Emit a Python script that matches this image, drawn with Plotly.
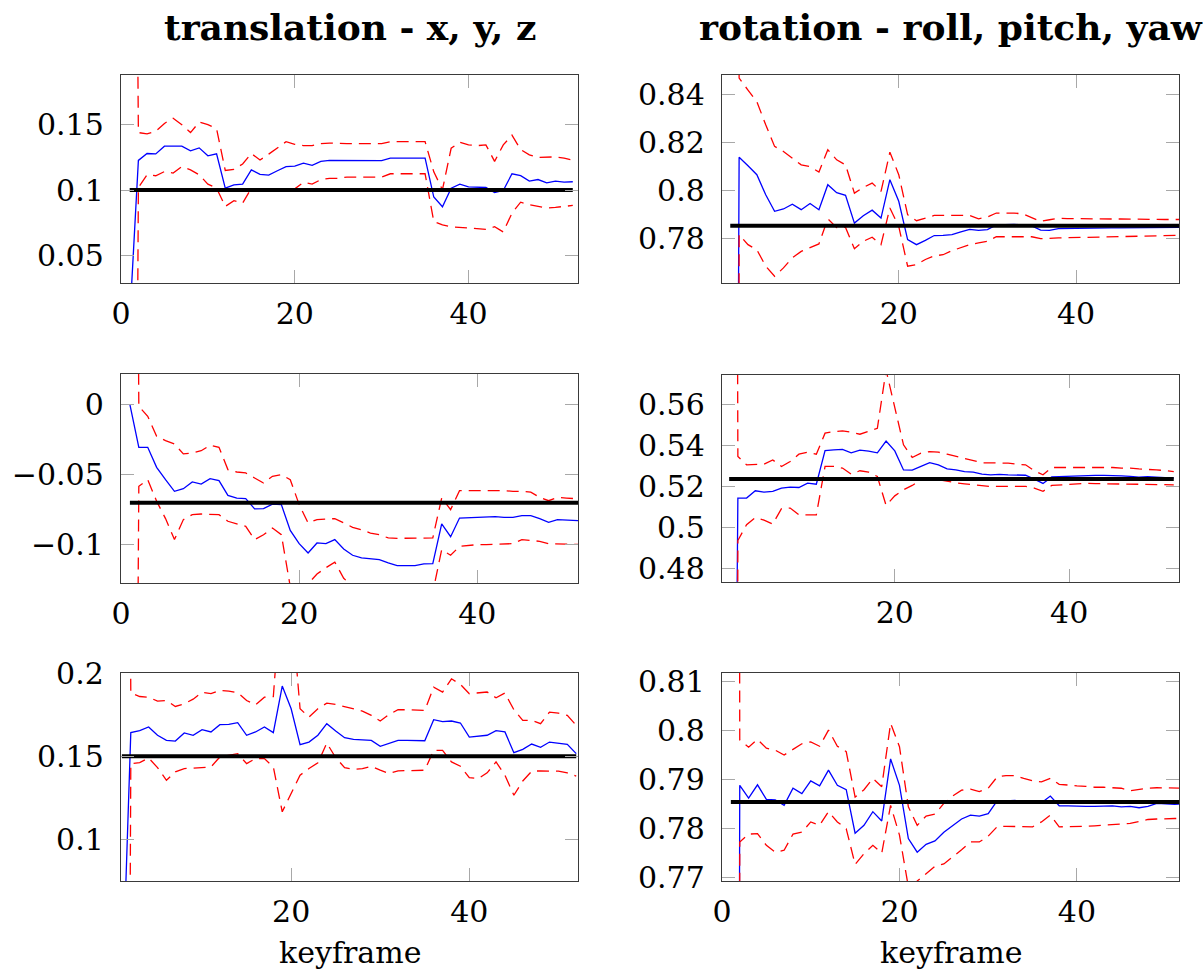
import math
import plotly.graph_objects as go

# keyframe index shared by all six panels
keyframes = list(range(1, 53))

# ---------------- translation x ----------------
est_tx = [0.0, 0.1227, 0.128, 0.1277, 0.1336, 0.1338, 0.1336, 0.130, 0.1323, 0.1262,
          0.1277, 0.1015, 0.104, 0.1046, 0.1155, 0.112, 0.1115, 0.1148, 0.118, 0.1183,
          0.1206, 0.119, 0.1219, 0.1227, 0.1227, 0.1227, 0.1229, 0.1229, 0.1227, 0.1225,
          0.1244, 0.1244, 0.1244, 0.1244, 0.1244, 0.0947, 0.0873, 0.1015, 0.1046, 0.1025,
          0.102, 0.102, 0.0982, 0.0997, 0.1125, 0.111, 0.1069, 0.1081, 0.1056, 0.1069,
          0.1061, 0.1064]
up_tx = [1.0, 0.144, 0.143, 0.145, 0.151, 0.155, 0.150, 0.144, 0.152, 0.150,
         0.147, 0.115, 0.1158, 0.120, 0.128, 0.123, 0.1275, 0.132, 0.137, 0.135,
         0.134, 0.134, 0.1356, 0.136, 0.1355, 0.1355, 0.1355, 0.1355, 0.1355, 0.1355,
         0.137, 0.137, 0.137, 0.137, 0.137, 0.114, 0.1003, 0.132, 0.1366, 0.1346,
         0.134, 0.1346, 0.122, 0.1346, 0.142, 0.131, 0.127, 0.125, 0.125, 0.1254,
         0.1244, 0.123]
lo_tx = [-1.0, 0.102, 0.1117, 0.111, 0.1142, 0.113, 0.118, 0.1155, 0.1117, 0.1046,
         0.1015, 0.0875, 0.0919, 0.090, 0.1015, 0.0995, 0.099, 0.0995, 0.0995, 0.101,
         0.106, 0.1046, 0.108, 0.109, 0.109, 0.110, 0.110, 0.110, 0.1095, 0.110,
         0.1125, 0.1125, 0.1125, 0.1125, 0.1125, 0.076, 0.0735, 0.072, 0.0715, 0.0705,
         0.070, 0.070, 0.072, 0.068, 0.0824, 0.0908, 0.0888, 0.0875, 0.0863, 0.0868,
         0.0875, 0.0883]
true_tx = 0.1

# ---------------- translation y ----------------
est_ty = [0.0, -0.0305, -0.0305, -0.0448, -0.0536, -0.0619, -0.060, -0.0552, -0.0567, -0.0529,
          -0.0543, -0.0648, -0.0667, -0.0671, -0.0745, -0.0743, -0.071, -0.0714, -0.0898, -0.0993,
          -0.106, -0.0988, -0.0993, -0.0964, -0.1031, -0.1076, -0.1095, -0.1102, -0.1107, -0.1131,
          -0.115, -0.115, -0.115, -0.1138, -0.1136, -0.0852, -0.0943, -0.081, -0.0807, -0.0807,
          -0.0805, -0.080, -0.0805, -0.0805, -0.0793, -0.0793, -0.0814, -0.084, -0.0821, -0.0826,
          -0.0831, -0.083]
up_ty = [1.0, -0.0012, -0.0083, -0.0226, -0.0257, -0.0281, -0.0352, -0.0345, -0.0329, -0.029,
         -0.0305, -0.0464, -0.0481, -0.0488, -0.0524, -0.056, -0.0512, -0.050, -0.0536, -0.0714,
         -0.0845, -0.0821, -0.0817, -0.0814, -0.0845, -0.0876, -0.0895, -0.0917, -0.0929, -0.0952,
         -0.0955, -0.0955, -0.0955, -0.0955, -0.0952, -0.0667, -0.075, -0.0614, -0.0614, -0.0614,
         -0.0612, -0.0612, -0.0614, -0.0619, -0.0619, -0.0625, -0.0662, -0.0686, -0.0662, -0.0667,
         -0.0674, -0.0676]
lo_ty = [-1.0, -0.0583, -0.0536, -0.069, -0.0814, -0.0964, -0.0821, -0.0786, -0.0781, -0.0781,
         -0.0786, -0.0833, -0.0852, -0.0869, -0.0964, -0.0929, -0.0881, -0.0929, -0.130, -0.135,
         -0.128, -0.121, -0.1165, -0.1125, -0.124, -0.130, -0.131, -0.132, -0.133, -0.134,
         -0.135, -0.135, -0.135, -0.134, -0.134, -0.1036, -0.1076, -0.1012, -0.1005, -0.100,
         -0.100, -0.0998, -0.0995, -0.0993, -0.0964, -0.097, -0.0976, -0.0993, -0.0995, -0.100,
         -0.100, -0.100]
true_ty = -0.07

# ---------------- translation z ----------------
est_tz = [0.0, 0.1643, 0.1655, 0.1677, 0.1627, 0.1596, 0.1592, 0.1641, 0.1627, 0.1661,
          0.1647, 0.1691, 0.1693, 0.1703, 0.1627, 0.1647, 0.1677, 0.1643, 0.1924, 0.1787,
          0.157, 0.1586, 0.1627, 0.1697, 0.1653, 0.1612, 0.1602, 0.160, 0.1596, 0.156,
          0.1576, 0.1596, 0.1596, 0.1594, 0.1594, 0.1721, 0.1709, 0.1713, 0.1701, 0.1616,
          0.1622, 0.1627, 0.1655, 0.1647, 0.1522, 0.1542, 0.1574, 0.1554, 0.1586, 0.158,
          0.1572, 0.1516]
up_tz = [1.0, 0.1882, 0.1861, 0.1857, 0.1833, 0.1837, 0.1801, 0.1817, 0.1845, 0.1886,
         0.1878, 0.1898, 0.1894, 0.1884, 0.1837, 0.1811, 0.1857, 0.1861, 0.258, 0.243,
         0.1787, 0.1737, 0.1787, 0.1821, 0.1813, 0.1801, 0.1787, 0.1773, 0.1747, 0.1713,
         0.1753, 0.1781, 0.1781, 0.1777, 0.1777, 0.1918, 0.1888, 0.1968, 0.1934, 0.1878,
         0.1882, 0.1888, 0.1853, 0.1882, 0.1781, 0.1717, 0.1717, 0.1697, 0.1767, 0.1761,
         0.1747, 0.1687]
lo_tz = [-1.0, 0.1456, 0.1462, 0.149, 0.1432, 0.1355, 0.1406, 0.1426, 0.1428, 0.1434,
         0.1436, 0.1496, 0.1506, 0.1516, 0.1456, 0.1486, 0.1486, 0.1436, 0.1165, 0.1275,
         0.1386, 0.1426, 0.146, 0.158, 0.1492, 0.1432, 0.142, 0.1426, 0.144, 0.1416,
         0.1396, 0.1412, 0.1412, 0.1416, 0.1416, 0.1536, 0.1536, 0.1466, 0.144, 0.1371,
         0.1365, 0.140, 0.1466, 0.1386, 0.1265, 0.1351, 0.141, 0.1412, 0.141, 0.141,
         0.140, 0.138]
true_tz = 0.15

# ---------------- rotation roll ----------------
est_rr = [0.0, 0.814, 0.8104, 0.8067, 0.7983, 0.7914, 0.7924, 0.7944, 0.7921, 0.7947,
          0.7921, 0.8025, 0.7992, 0.7981, 0.7865, 0.7896, 0.7919, 0.7886, 0.8046, 0.7956,
          0.7796, 0.7775, 0.7793, 0.7813, 0.7814, 0.7817, 0.7828, 0.7839, 0.7835, 0.7838,
          0.7857, 0.7858, 0.786, 0.7856, 0.7853, 0.7836, 0.7835, 0.7842, 0.7843, 0.7843,
          0.7844, 0.7844, 0.7844, 0.7845, 0.7845, 0.7845, 0.7846, 0.7846, 0.7846, 0.7846,
          0.7847, 0.7847]
up_rr = [2.0, 0.847, 0.842, 0.8372, 0.8275, 0.8185, 0.8164, 0.8136, 0.8108, 0.8101,
         0.8078, 0.8171, 0.8129, 0.8108, 0.799, 0.8014, 0.8032, 0.7997, 0.8161, 0.8067,
         0.790, 0.7875, 0.7886, 0.7897, 0.7897, 0.7896, 0.7897, 0.7897, 0.7883, 0.789,
         0.7907, 0.7908, 0.7907, 0.7903, 0.7889, 0.7872, 0.7879, 0.7885, 0.7884, 0.7883,
         0.7883, 0.7883, 0.7882, 0.7882, 0.7882, 0.7881, 0.7881, 0.7881, 0.788, 0.788,
         0.788, 0.788]
lo_rr = [-2.0, 0.7817, 0.7775, 0.7754, 0.7685, 0.7643, 0.7678, 0.772, 0.7747, 0.7764,
         0.7778, 0.7883, 0.7846, 0.7847, 0.7758, 0.7789, 0.7806, 0.7775, 0.7928, 0.7851,
         0.7685, 0.7692, 0.7713, 0.7728, 0.7733, 0.775, 0.7764, 0.7775, 0.7782, 0.7789,
         0.7808, 0.7808, 0.7808, 0.7808, 0.7808, 0.780, 0.780, 0.7803, 0.7804, 0.7805,
         0.7806, 0.7807, 0.7808, 0.7808, 0.7809, 0.781, 0.781, 0.7811, 0.7812, 0.7813,
         0.7813, 0.7814]
true_rr = math.pi / 4

# ---------------- rotation pitch ----------------
est_rp = [0.0, 0.5143, 0.5143, 0.5179, 0.5172, 0.5176, 0.5192, 0.5197, 0.5195, 0.5216,
          0.5211, 0.5376, 0.5379, 0.5382, 0.5365, 0.5378, 0.5373, 0.5365, 0.5422, 0.5374,
          0.5281, 0.528, 0.5298, 0.5317, 0.5306, 0.5286, 0.5281, 0.5273, 0.527, 0.526,
          0.5257, 0.5259, 0.5257, 0.5257, 0.5255, 0.5236, 0.5215, 0.5247, 0.5249, 0.5251,
          0.5252, 0.5254, 0.5254, 0.5254, 0.5254, 0.5252, 0.5249, 0.5246, 0.5248, 0.5246,
          0.5244, 0.5241]
up_rp = [2.0, 0.5347, 0.5306, 0.5306, 0.5309, 0.533, 0.5298, 0.5322, 0.5358, 0.5368,
         0.5358, 0.5461, 0.5469, 0.5472, 0.5466, 0.5456, 0.5469, 0.5485, 0.577, 0.5583,
         0.5404, 0.5342, 0.5363, 0.5371, 0.5368, 0.5358, 0.5347, 0.5335, 0.5325, 0.5316,
         0.5316, 0.5316, 0.5314, 0.5309, 0.5306, 0.5277, 0.5257, 0.5293, 0.5293, 0.5293,
         0.5293, 0.5295, 0.5295, 0.5295, 0.5293, 0.529, 0.529, 0.5286, 0.5285, 0.5281,
         0.5278, 0.5273]
lo_rp = [-2.0, 0.4935, 0.5013, 0.5048, 0.5035, 0.5016, 0.5091, 0.5094, 0.5061, 0.5061,
         0.5061, 0.5298, 0.5298, 0.529, 0.526, 0.5277, 0.527, 0.5249, 0.5107, 0.5154,
         0.5184, 0.5205, 0.5233, 0.5241, 0.5233, 0.5224, 0.5218, 0.5213, 0.5208, 0.5202,
         0.520, 0.520, 0.520, 0.520, 0.520, 0.5192, 0.5176, 0.5205, 0.5208, 0.5211,
         0.5213, 0.5215, 0.5214, 0.5213, 0.5213, 0.5212, 0.5211, 0.521, 0.521, 0.5209,
         0.5209, 0.5208]
true_rp = math.pi / 6

# ---------------- rotation yaw ----------------
est_ry = [0.0, 0.7888, 0.7862, 0.7889, 0.7859, 0.7858, 0.7847, 0.7882, 0.7871, 0.7897,
          0.7887, 0.7919, 0.7888, 0.7879, 0.779, 0.7806, 0.7834, 0.7815, 0.7942, 0.7888,
          0.7779, 0.7751, 0.7767, 0.7774, 0.7792, 0.7806, 0.7819, 0.7827, 0.7825, 0.783,
          0.7856, 0.7856, 0.7857, 0.7855, 0.7853, 0.7852, 0.7866, 0.7846, 0.7846, 0.7845,
          0.7845, 0.7845, 0.7845, 0.7846, 0.7844, 0.7845, 0.7842, 0.7845, 0.7851, 0.785,
          0.7849, 0.785]
up_ry = [2.0, 0.7981, 0.7966, 0.7982, 0.7964, 0.796, 0.795, 0.7962, 0.7973, 0.7977,
         0.7968, 0.8001, 0.7968, 0.7957, 0.7864, 0.7879, 0.7902, 0.7885, 0.8015, 0.7967,
         0.7844, 0.7806, 0.7825, 0.7829, 0.7851, 0.7866, 0.7878, 0.788, 0.7875, 0.7882,
         0.7905, 0.7908, 0.7908, 0.7902, 0.7897, 0.7895, 0.7902, 0.789, 0.7888, 0.7887,
         0.7886, 0.7884, 0.7884, 0.7883, 0.7882, 0.7877, 0.788, 0.7882, 0.7883, 0.7883,
         0.7882, 0.7882]
lo_ry = [-2.0, 0.7772, 0.7788, 0.7789, 0.7765, 0.7751, 0.7755, 0.7788, 0.7792, 0.7813,
         0.7806, 0.7834, 0.7813, 0.7799, 0.7726, 0.7748, 0.7765, 0.7749, 0.7847, 0.7786,
         0.768, 0.7692, 0.7707, 0.7722, 0.7727, 0.7741, 0.7756, 0.7772, 0.7772, 0.7784,
         0.7803, 0.7804, 0.7804, 0.7803, 0.7803, 0.7813, 0.7827, 0.7803, 0.7803, 0.7803,
         0.7804, 0.7805, 0.7806, 0.7807, 0.7808, 0.781, 0.7814, 0.7818, 0.7819, 0.782,
         0.782, 0.782]
true_ry = math.pi / 4

# tick labels per panel
x_ticks = [0, 20, 40]
x_ticktext = ["0", "20", "40"]
y_ticks_tx = [0.05, 0.1, 0.15]
y_ticktext_tx = ["0.05", "0.1", "0.15"]
y_ticks_ty = [-0.1, -0.05, 0.0]
y_ticktext_ty = ["\u22120.1", "\u22120.05", "0"]
y_ticks_tz = [0.1, 0.15, 0.2]
y_ticktext_tz = ["0.1", "0.15", "0.2"]
y_ticks_rr = [0.78, 0.8, 0.82, 0.84]
y_ticktext_rr = ["0.78", "0.8", "0.82", "0.84"]
y_ticks_rp = [0.48, 0.5, 0.52, 0.54, 0.56]
y_ticktext_rp = ["0.48", "0.5", "0.52", "0.54", "0.56"]
y_ticks_ry = [0.77, 0.78, 0.79, 0.8, 0.81]
y_ticktext_ry = ["0.77", "0.78", "0.79", "0.8", "0.81"]

col_titles = ["translation - x, y, z", "rotation - roll, pitch, yaw"]
x_title = "keyframe"

W, H = 1203, 971
FONT = "DejaVu Serif"

# panel layout: (estimate, upper, lower, truth, yticks, yticktext, xrange, yrange, pixel box)
panels = [
    (est_tx, up_tx, lo_tx, true_tx, y_ticks_tx, y_ticktext_tx, [0, 52.6], [0.029, 0.188], (121, 578, 75, 283)),
    (est_rr, up_rr, lo_rr, true_rr, y_ticks_rr, y_ticktext_rr, [0.07, 51.6], [0.7615, 0.8483], (722, 1179, 75, 283)),
    (est_ty, up_ty, lo_ty, true_ty, y_ticks_ty, y_ticktext_ty, [0, 51.3], [-0.1274, 0.0219], (121, 578, 374, 583)),
    (est_rp, up_rp, lo_rp, true_rp, y_ticks_rp, y_ticktext_rp, [0.18, 52.6], [0.4732, 0.5746], (722, 1179, 375, 582)),
    (est_tz, up_tz, lo_tz, true_tz, y_ticks_tz, y_ticktext_tz, [0.9, 52.2], [0.0747, 0.2003], (121, 578, 673, 881)),
    (est_ry, up_ry, lo_ry, true_ry, y_ticks_ry, y_ticktext_ry, [0, 51.5], [0.7692, 0.8118], (722, 1179, 673, 881)),
]

fig = go.Figure()
layout = {}

for i, (est, up, lo, truth, yt, ytt, xr, yr, box) in enumerate(panels):
    n = i + 1
    xa = "x" if n == 1 else f"x{n}"
    ya = "y" if n == 1 else f"y{n}"
    common = dict(xaxis=xa, yaxis=ya, mode="lines", showlegend=False, hoverinfo="skip")
    fig.add_trace(go.Scatter(x=keyframes, y=est, line=dict(color="#0000ff", width=1.3), **common))
    fig.add_trace(go.Scatter(x=keyframes, y=up, line=dict(color="#ff0000", width=1.3, dash="12px,7px"), **common))
    fig.add_trace(go.Scatter(x=keyframes, y=lo, line=dict(color="#ff0000", width=1.3, dash="12px,7px"), **common))
    fig.add_trace(go.Scatter(x=keyframes, y=[truth] * len(keyframes),
                             line=dict(color="#000000", width=4), **common))

    x0, x1, y0, y1 = box
    axis_common = dict(
        showgrid=False, zeroline=False, showline=True, linecolor="#3a3a3a", linewidth=1.4,
        mirror="ticks", ticks="inside", ticklen=13, tickwidth=1.3, tickcolor="#a8a8a8",
        tickfont=dict(family=FONT, size=30, color="#000000"), automargin=False,
    )
    layout["xaxis" if n == 1 else f"xaxis{n}"] = dict(
        domain=[x0 / W, x1 / W], range=xr, anchor=ya,
        tickmode="array", tickvals=x_ticks, ticktext=x_ticktext,
        ticklabelstandoff=4, **axis_common)
    layout["yaxis" if n == 1 else f"yaxis{n}"] = dict(
        domain=[1 - y1 / H, 1 - y0 / H], range=yr, anchor=xa,
        tickmode="array", tickvals=yt, ticktext=ytt,
        ticklabelstandoff=10, **axis_common)

annotations = []
for cx, txt in [((121 + 578) / 2, col_titles[0]), ((722 + 1179) / 2, col_titles[1])]:
    annotations.append(dict(x=cx / W, y=1 - 27 / H, xref="paper", yref="paper",
                            text=f"<b>{txt}</b>", showarrow=False, xanchor="center", yanchor="middle",
                            font=dict(family=FONT, size=36, color="#000000")))
    annotations.append(dict(x=cx / W, y=1 - 952 / H, xref="paper", yref="paper",
                            text=x_title, showarrow=False, xanchor="center", yanchor="middle",
                            font=dict(family=FONT, size=30, color="#000000")))

fig.update_layout(
    width=W, height=H, autosize=False,
    margin=dict(l=0, r=0, t=0, b=0, pad=0, autoexpand=False),
    paper_bgcolor="white", plot_bgcolor="white",
    annotations=annotations, **layout,
)

fig.write_html("out.html", config={"responsive": False})
